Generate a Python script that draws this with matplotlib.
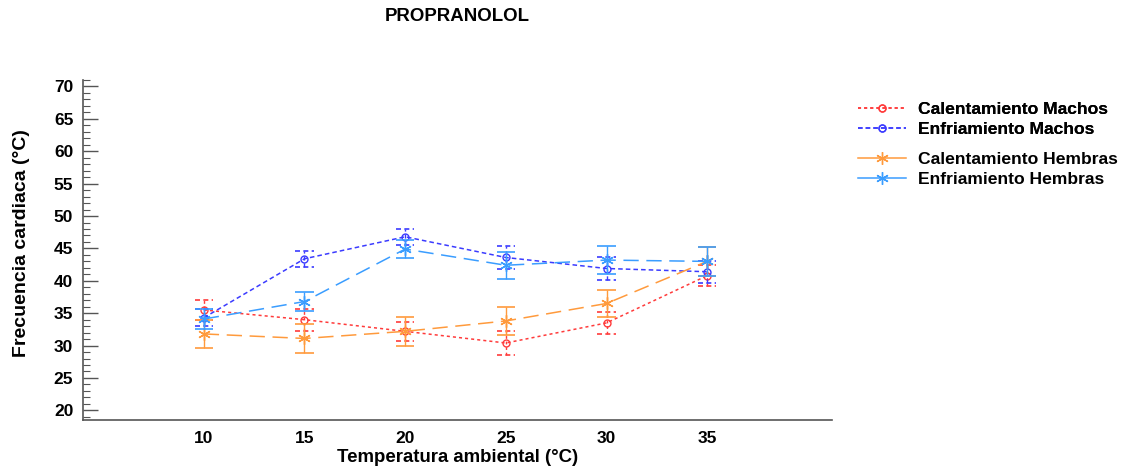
import numpy as np
import matplotlib
matplotlib.use('Agg')
import matplotlib.pyplot as plt
from matplotlib.ticker import MultipleLocator
from matplotlib.lines import Line2D

temps = [10, 15, 20, 25, 30, 35]

cal_machos = [35.5, 34.0, 32.2, 30.4, 33.5, 40.8]
cal_machos_err = [1.6, 1.7, 1.5, 1.9, 1.7, 1.6]
enf_machos = [34.3, 43.4, 46.8, 43.6, 41.9, 41.4]
enf_machos_err = [1.3, 1.2, 1.2, 1.8, 1.8, 1.7]
cal_hembras = [31.8, 31.1, 32.2, 33.8, 36.5, 43.0]
cal_hembras_err = [2.2, 2.2, 2.2, 2.1, 2.1, 2.2]
enf_hembras = [34.1, 36.8, 44.9, 42.4, 43.2, 43.0]
enf_hembras_err = [1.5, 1.4, 1.4, 2.1, 2.1, 2.2]

labels = ['Calentamiento Machos', 'Enfriamiento Machos',
          'Calentamiento Hembras', 'Enfriamiento Hembras']

plt.rcParams['font.family'] = ['Liberation Sans', 'DejaVu Sans']

fig = plt.figure(figsize=(11.34, 4.72), dpi=100)
ax = fig.add_axes([0.0732, 0.110, 0.6605, 0.7205])

asterisk = (6, 2, 0)
series = [
    (cal_machos, cal_machos_err, '#ff3b3b', (0, (2, 2)), 'o', 5, True),
    (enf_machos, enf_machos_err, '#3b3bff', (0, (3, 2)), 'o', 5, True),
    (cal_hembras, cal_hembras_err, '#ff9a3c', (0, (10, 5)), asterisk, 9, False),
    (enf_hembras, enf_hembras_err, '#3a9dff', (0, (10, 5)), asterisk, 9, False),
]

x = np.array(temps, dtype=float)
handles = []
for (vals, err, col, ls, mk, ms, dashed_caps) in series:
    vals = np.array(vals)
    err = np.array(err)
    ax.plot(x, vals, color=col, linestyle=ls, linewidth=1.1, marker=mk,
            markersize=ms, markerfacecolor='none', markeredgecolor=col,
            markeredgewidth=1.0)
    ax.vlines(x, vals - err, vals + err, color=col, linewidth=1.0,
              linestyles=(ls if dashed_caps else '-'))
    cap_ls = (0, (3, 2)) if dashed_caps else '-'
    ax.hlines(np.concatenate([vals + err, vals - err]),
              np.concatenate([x, x]) - 0.45, np.concatenate([x, x]) + 0.45,
              color=col, linewidth=1.2, linestyles=cap_ls)
    handles.append(Line2D([], [], color=col,
                          linestyle=(ls if dashed_caps else '-'), linewidth=1.1,
                          marker=mk, markersize=ms, markerfacecolor='none',
                          markeredgecolor=col))

ax.set_xlim(4, 41.2)
ax.set_ylim(18.5, 71)
ax.spines['top'].set_visible(False)
ax.spines['right'].set_visible(False)
for s in ['left', 'bottom']:
    ax.spines[s].set_color('#555555')
    ax.spines[s].set_linewidth(1.2)

ax.yaxis.set_major_locator(MultipleLocator(5))
ax.yaxis.set_minor_locator(MultipleLocator(1))
ax.tick_params(axis='y', which='major', direction='in', length=11, width=1.0,
               color='#555555', pad=7, labelsize=12.5)
ax.tick_params(axis='y', which='minor', direction='in', length=5, width=0.8,
               color='#555555')
ax.set_xticks(temps)
ax.tick_params(axis='x', length=0, pad=8, labelsize=12.5)
for t in ax.get_yticklabels() + ax.get_xticklabels():
    t.set_fontweight('bold')

ax.set_xlabel('Temperatura ambiental (°C)', fontsize=13.4, fontweight='bold',
              labelpad=2)
ax.set_ylabel('Frecuencia cardiaca (°C)', fontsize=14, fontweight='bold')
ax.yaxis.set_label_coords(-0.071, 0.52)
fig.text(0.403, 0.964, 'PROPRANOLOL', ha='center', va='center',
         fontsize=13.4, fontweight='bold')

legkw = dict(loc='upper left', frameon=False, handlelength=2.75,
             handletextpad=0.7, labelspacing=0.27,
             prop={'weight': 'bold', 'size': 12.6})
leg1 = fig.legend(handles[:2], labels[:2], bbox_to_anchor=(0.7425, 0.818),
                  **legkw)
leg2 = fig.legend(handles[2:], labels[2:], bbox_to_anchor=(0.7425, 0.712),
                  **legkw)
fig.add_artist(leg1)

fig.savefig('out.png', dpi=100)
